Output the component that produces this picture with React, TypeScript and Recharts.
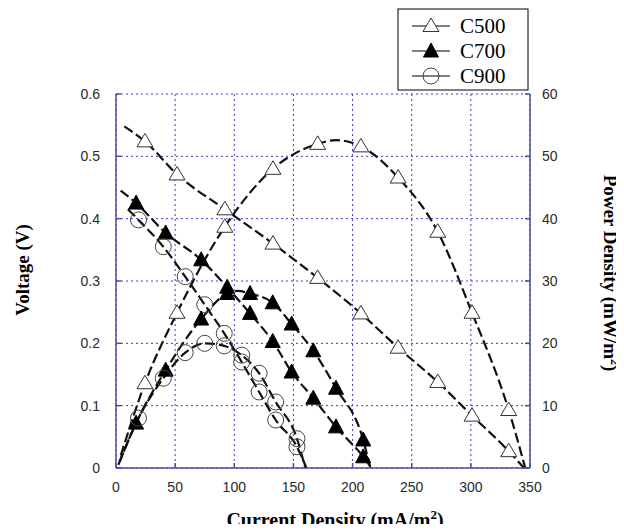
import React from 'react';
import { ComposedChart, Line, Scatter, XAxis, YAxis, CartesianGrid } from 'recharts';

// ---- axes ----
const currentTicks = [0, 50, 100, 150, 200, 250, 300, 350];
const voltageTicks = [0, 0.1, 0.2, 0.3, 0.4, 0.5, 0.6];
const powerTicks = [0, 10, 20, 30, 40, 50, 60];
const seriesNames = ['C500', 'C700', 'C900'];

// ---- C500 (open triangles) ----
const c500Current = [24.5, 51.6, 92, 132.7, 170.5, 207, 238.5, 272, 301, 332];
const c500Voltage = [0.524, 0.471, 0.415, 0.36, 0.305, 0.248, 0.193, 0.138, 0.084, 0.027];
const c500Power = [13.6, 24.9, 38.7, 48.0, 52.0, 51.6, 46.6, 37.9, 24.9, 9.3];
// line-only points (curve ends / peak)
const c500VoltageCurve = [[7, 0.548], [345, 0]];
const c500PowerCurve = [[4, 2], [186, 52.6], [346, 0]];

// ---- C700 (filled triangles) ----
const c700Current = [17, 42, 72, 94, 113.3, 132.5, 148.5, 166.8, 186, 209];
const c700Voltage = [0.425, 0.377, 0.334, 0.29, 0.248, 0.203, 0.154, 0.112, 0.066, 0.018];
const c700Power = [7.2, 15.7, 23.9, 28.0, 28.0, 26.5, 23.1, 18.8, 12.8, 4.5];
const c700VoltageCurve = [[4, 0.445], [216, 0]];
const c700PowerCurve = [[3, 1], [103, 28.4], [215, 0]];

// ---- C900 (open circles) ----
const c900Current = [19, 40, 58.5, 75, 91.5, 106.3, 121, 135, 153];
const c900Voltage = [0.398, 0.355, 0.307, 0.262, 0.216, 0.17, 0.122, 0.077, 0.034];
const c900Power = [8.0, 14.4, 18.5, 20.0, 19.6, 18.1, 15.2, 10.6, 4.7];
const c900VoltageCurve = [[10, 0.415], [161, 0]];
const c900PowerCurve = [[2, 0.5], [160, 0]];

type P = { x: number; y: number };
const markers = (xs: number[], ys: number[]): P[] => xs.map((x, i) => ({ x, y: ys[i] }));
const curve = (xs: number[], ys: number[], extra: number[][]): P[] =>
  [...markers(xs, ys), ...extra.map(([x, y]) => ({ x, y }))].sort((a, b) => a.x - b.x);

const INK = '#111';
const FRAME = '#4e4e9e';
const GRID = '#3c3cc8';
const SERIF = '"Liberation Serif", "Times New Roman", serif';
const SANS = '"Liberation Sans", Arial, sans-serif';

const OpenTri = (p: any) => {
  const { cx, cy } = p;
  if (cx == null || cy == null) return null;
  return <polygon points={`${cx},${cy - 8} ${cx - 8},${cy + 5.5} ${cx + 8},${cy + 5.5}`} fill="#fff" stroke="#333" strokeWidth={1} />;
};
const FilledTri = (p: any) => {
  const { cx, cy } = p;
  if (cx == null || cy == null) return null;
  return <polygon points={`${cx},${cy - 8} ${cx - 7.5},${cy + 6} ${cx + 7.5},${cy + 6}`} fill="#000" stroke="#000" strokeWidth={1} />;
};
const OpenCircle = (p: any) => {
  const { cx, cy } = p;
  if (cx == null || cy == null) return null;
  return <circle cx={cx} cy={cy} r={8} fill="none" stroke="#444" strokeWidth={1} />;
};

const series = [
  { name: seriesNames[0], cur: c500Current, v: c500Voltage, p: c500Power, vc: c500VoltageCurve, pc: c500PowerCurve, shape: OpenTri },
  { name: seriesNames[1], cur: c700Current, v: c700Voltage, p: c700Power, vc: c700VoltageCurve, pc: c700PowerCurve, shape: FilledTri },
  { name: seriesNames[2], cur: c900Current, v: c900Voltage, p: c900Power, vc: c900VoltageCurve, pc: c900PowerCurve, shape: OpenCircle },
];

const LegendBox = () => (
  <g>
    <rect x={398} y={9} width={130} height={81} fill="#fff" stroke="#000" strokeWidth={1} />
    {series.map((s, i) => {
      const cy = 26 + i * 25;
      const Shape = s.shape;
      return (
        <g key={s.name}>
          <line x1={412} x2={450} y1={cy} y2={cy} stroke="#000" strokeWidth={1} />
          <Shape cx={431} cy={cy} />
          <text x={460} y={cy + 7} fontFamily={SERIF} fontSize={21} fill="#000">{s.name}</text>
        </g>
      );
    })}
  </g>
);

const Titles = () => (
  <g>
    <text x={335} y={527} textAnchor="middle" fontFamily={SERIF} fontWeight="bold" fontSize={20} fill="#000">
      Current Density (mA/m<tspan dy={-8} fontSize={13}>2</tspan><tspan dy={8}>)</tspan>
    </text>
    <text x={0} y={0} transform="translate(29,270) rotate(-90)" textAnchor="middle" fontFamily={SERIF} fontWeight="bold" fontSize={19} fill="#000">
      Voltage (V)
    </text>
    <text x={0} y={0} transform="translate(604,273) rotate(90)" textAnchor="middle" fontFamily={SERIF} fontWeight="bold" fontSize={19} fill="#000">
      Power Density (mW/m<tspan dy={-7} fontSize={12}>2</tspan><tspan dy={7}>)</tspan>
    </text>
  </g>
);

export default function App() {
  const tickStyle = { fontFamily: SANS, fontSize: 14, fill: '#2a2a2a' };
  const tickLineStyle = { stroke: FRAME, strokeWidth: 1.5 };
  return (
    <div style={{ margin: '-8px 0 -8px -8px', width: 624, height: 532 }}>
      <ComposedChart width={624} height={532} margin={{ top: 94, right: 0, bottom: 0, left: 0 }}>
        <CartesianGrid stroke={GRID} strokeDasharray="2 3" strokeWidth={1} xAxisId="x" yAxisId="v" />
        <XAxis xAxisId="x" dataKey="x" type="number" domain={[0, 350]} ticks={currentTicks} height={64}
          tickLine={tickLineStyle} tickSize={-5} tickMargin={19} tick={tickStyle} axisLine={{ stroke: FRAME, strokeWidth: 1.5 }} />
        <XAxis xAxisId="top" orientation="top" dataKey="x" type="number" domain={[0, 350]} ticks={currentTicks} height={0}
          tick={false} tickLine={tickLineStyle} tickSize={-5} axisLine={{ stroke: FRAME, strokeWidth: 1.5 }} />
        <YAxis yAxisId="v" type="number" domain={[0, 0.6]} ticks={voltageTicks} width={116}
          tickLine={tickLineStyle} tickSize={-5} tickMargin={21} tick={tickStyle} axisLine={{ stroke: FRAME, strokeWidth: 1.5 }} />
        <YAxis yAxisId="p" orientation="right" type="number" domain={[0, 60]} ticks={powerTicks} width={94}
          tickLine={tickLineStyle} tickSize={-5} tickMargin={17} tick={tickStyle} axisLine={{ stroke: FRAME, strokeWidth: 1.5 }} />
        {series.map((s) => (
          <Line key={s.name + 'v'} xAxisId="x" yAxisId="v" data={curve(s.cur, s.v, s.vc)} dataKey="y" type="monotone"
            stroke={INK} strokeWidth={2.2} strokeDasharray="10 4" dot={false} activeDot={false} isAnimationActive={false} />
        ))}
        {series.map((s) => (
          <Line key={s.name + 'p'} xAxisId="x" yAxisId="p" data={curve(s.cur, s.p, s.pc)} dataKey="y" type="monotone"
            stroke={INK} strokeWidth={2.2} strokeDasharray="10 4" dot={false} activeDot={false} isAnimationActive={false} />
        ))}
        {series.map((s) => (
          <Scatter key={s.name + 'vm'} xAxisId="x" yAxisId="v" data={markers(s.cur, s.v)} dataKey="y" shape={s.shape} isAnimationActive={false} />
        ))}
        {series.map((s) => (
          <Scatter key={s.name + 'pm'} xAxisId="x" yAxisId="p" data={markers(s.cur, s.p)} dataKey="y" shape={s.shape} isAnimationActive={false} />
        ))}
        <LegendBox />
        <Titles />
      </ComposedChart>
    </div>
  );
}
